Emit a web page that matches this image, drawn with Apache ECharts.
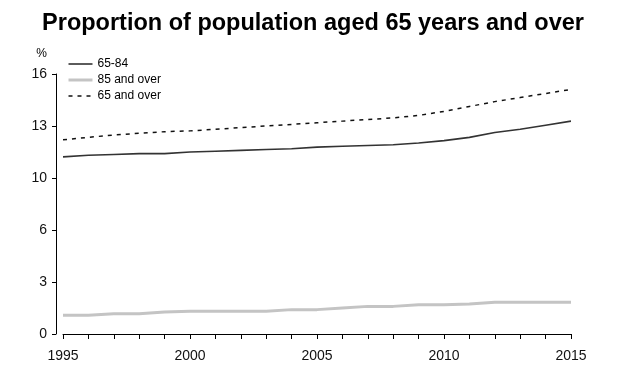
<!DOCTYPE html>
<html>
<head>
<meta charset="utf-8">
<script src="https://cdn.jsdelivr.net/npm/echarts@6/dist/echarts.min.js"></script>
<style>html,body{margin:0;padding:0;background:#fff}#c{width:626px;height:389px}</style>
</head>
<body>
<div id="c"></div>
<script>
var years = [1995,1996,1997,1998,1999,2000,2001,2002,2003,2004,2005,2006,2007,2008,2009,2010,2011,2012,2013,2014,2015];
var aged65to84 = [10.9,11.0,11.05,11.1,11.1,11.2,11.25,11.3,11.35,11.4,11.5,11.55,11.6,11.65,11.75,11.9,12.1,12.4,12.6,12.85,13.1];
var aged85over = [1.15,1.15,1.25,1.25,1.35,1.4,1.4,1.4,1.4,1.5,1.5,1.6,1.7,1.7,1.8,1.8,1.85,1.95,1.95,1.95,1.95];
var aged65over = [11.95,12.1,12.25,12.35,12.45,12.5,12.6,12.7,12.8,12.9,13.0,13.1,13.2,13.3,13.45,13.7,14.0,14.3,14.55,14.8,15.05];
var seriesNames = ['65-84','85 and over','65 and over'];
var titleText = 'Proportion of population aged 65 years and over';

function pairs(vals){ return years.map(function(y,i){ return [y, vals[i]]; }); }

var chart = echarts.init(document.getElementById('c'), null, {renderer:'canvas'});
var font = 'Liberation Sans, Arial, sans-serif';
chart.setOption({
  animation:false,
  backgroundColor:'#fff',
  title:{
    text:titleText, left:'center', top:7,
    textStyle:{fontFamily:font, fontWeight:'bold', fontSize:23.5, color:'#000'}
  },
  legend:{
    orient:'vertical', left:62, top:53, itemWidth:24, itemHeight:10, itemGap:4,
    itemStyle:{opacity:0},
    textStyle:{fontFamily:font, fontSize:12, color:'#000'},
    data:[
      {name:seriesNames[0], lineStyle:{width:1.6}},
      {name:seriesNames[1], lineStyle:{width:3}},
      {name:seriesNames[2], lineStyle:{width:1.5}}
    ]
  },
  grid:{left:63, right:55, top:74, bottom:55, containLabel:false},
  xAxis:{
    type:'value', min:1995, max:2015, interval:1, offset:8,
    axisLine:{show:true, lineStyle:{color:'#000', width:1}},
    axisTick:{show:true, inside:false, length:5, lineStyle:{color:'#000'}},
    splitLine:{show:false},
    axisLabel:{margin:7, fontFamily:font, fontSize:14, color:'#111',
      formatter:function(v){ return (v % 5 === 0) ? String(v) : ''; }}
  },
  yAxis:{
    type:'value', min:0, max:16, interval:3.2, offset:7,
    name:'%', nameLocation:'end', nameGap:14,
    nameTextStyle:{fontFamily:font, fontSize:12, color:'#000', align:'right', padding:[0,9,0,0]},
    axisLine:{show:true, lineStyle:{color:'#000', width:1}},
    axisTick:{show:true, length:4, lineStyle:{color:'#000'}},
    splitLine:{show:false},
    axisLabel:{margin:9, fontFamily:font, fontSize:14, color:'#111',
      formatter:function(v){ return String(Math.round(v)); }}
  },
  series:[
    {name:seriesNames[0], type:'line', data:pairs(aged65to84), symbol:'none',
      lineStyle:{color:'#333', width:1.6}, itemStyle:{color:'#333'}},
    {name:seriesNames[1], type:'line', data:pairs(aged85over), symbol:'none',
      lineStyle:{color:'#c4c4c4', width:3}, itemStyle:{color:'#c4c4c4'}},
    {name:seriesNames[2], type:'line', data:pairs(aged65over), symbol:'none',
      lineStyle:{color:'#111', width:1.5, type:[4,5]}, itemStyle:{color:'#111'}}
  ]
});
</script>
</body>
</html>
